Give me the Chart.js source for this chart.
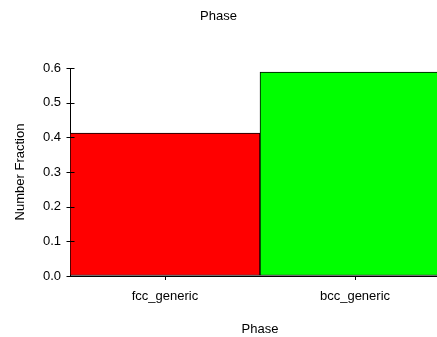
<!DOCTYPE html>
<html>
<head>
<meta charset="utf-8">
<script src="https://cdn.jsdelivr.net/npm/chart.js@4/dist/chart.umd.min.js"></script>
<style>
html,body{margin:0;padding:0;background:#fff;overflow:hidden;}
#wrap{position:relative;width:450px;height:337px;}
</style>
</head>
<body>
<div id="wrap"><canvas id="c"></canvas></div>
<script>
const chartTitle = "Phase";
const xTitle = "Phase";
const yTitle = "Number Fraction";
const categories = ["fcc_generic", "bcc_generic"];
const fractions = [0.412, 0.588];
const barColors = ["#ff0000", "#00ff00"];
const yMin = 0, yMax = 0.6, yStep = 0.05;

const FONT = "'Liberation Sans', Arial, sans-serif";
const FS = 13;

const yTicks = {
  id: 'yTicks',
  afterDatasetsDraw(chart) {
    const y = chart.scales.y;
    const ctx = chart.ctx;
    ctx.save();
    ctx.strokeStyle = '#000';
    ctx.lineWidth = 1;
    const x0 = Math.round(y.right) + 0.5;
    y.ticks.forEach(t => {
      const py = Math.round(y.getPixelForValue(t.value)) + 0.5;
      ctx.beginPath();
      ctx.moveTo(x0 - 4, py);
      ctx.lineTo(x0 + 4, py);
      ctx.stroke();
    });
    ctx.restore();
  }
};

const topTitle = {
  id: 'topTitle',
  afterDraw(chart) {
    const ctx = chart.ctx;
    ctx.save();
    ctx.fillStyle = '#000';
    ctx.font = FS + 'px ' + FONT;
    ctx.textAlign = 'center';
    ctx.textBaseline = 'middle';
    ctx.fillText(chartTitle, 437 / 2, 16);
    ctx.restore();
  }
};

new Chart(document.getElementById('c'), {
  type: 'bar',
  data: {
    labels: categories,
    datasets: [{
      data: fractions,
      backgroundColor: barColors,
      borderColor: '#000',
      borderWidth: 1,
      borderSkipped: false,
      categoryPercentage: 1.0,
      barPercentage: 1.0
    }]
  },
  options: {
    responsive: true,
    maintainAspectRatio: false,
    animation: false,
    devicePixelRatio: 1,
    layout: { padding: { top: 68, right: 0, left: 0, bottom: 0 } },
    plugins: { legend: { display: false }, tooltip: { enabled: false }, title: { display: false } },
    scales: {
      x: {
        offset: true,
        grid: { display: true, drawOnChartArea: false, offset: false, tickLength: 4, color: '#000' },
        border: { display: true, color: '#000' },
        ticks: { color: '#000', font: { family: FONT, size: FS }, padding: 9, maxRotation: 0 },
        title: { display: true, text: xTitle, color: '#000', font: { family: FONT, size: FS }, padding: { top: 7, bottom: 0 } },
        afterFit(s) { s.height = 61; }
      },
      y: {
        min: yMin, max: yMax,
        ticks: {
          stepSize: yStep, color: '#000', font: { family: FONT, size: FS }, padding: 5,
          callback(v, i) { return (Math.round(v * 100) % 10 === 0) ? v.toFixed(1) : ''; }
        },
        grid: { display: true, drawOnChartArea: false, tickLength: 4, color: 'rgba(0,0,0,0)' },
        border: { display: true, color: '#000' },
        title: { display: true, text: yTitle, color: '#000', font: { family: FONT, size: FS }, padding: { top: 13, bottom: 0 } },
        afterFit(s) { s.width = 70; }
      }
    }
  },
  plugins: [yTicks, topTitle]
});
</script>
</body>
</html>
